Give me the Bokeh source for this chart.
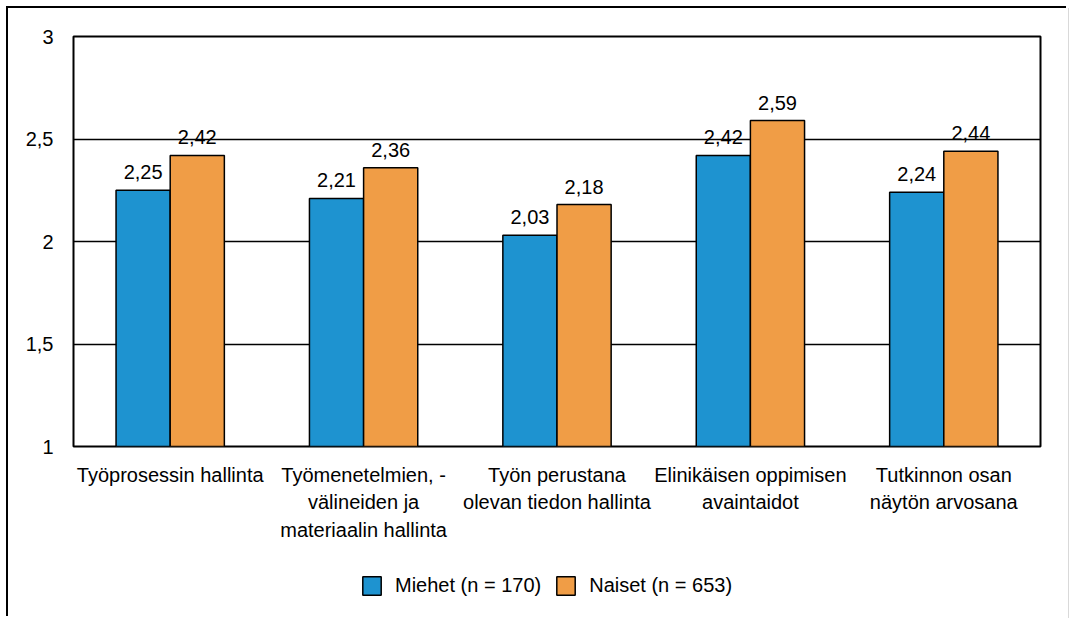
from bokeh.plotting import figure
from bokeh.layouts import column
from bokeh.models import (ColumnDataSource, FactorRange, Range1d, FixedTicker,
                          CustomJSTickFormatter, Legend, LegendItem)
from bokeh.transform import dodge
from bokeh.core.properties import value
from bokeh.embed import file_html
from bokeh.resources import INLINE

categories = [
    "Työprosessin hallinta",
    "Työmenetelmien, -\nvälineiden ja\nmateriaalin hallinta",
    "Työn perustana\nolevan tiedon hallinta",
    "Elinikäisen oppimisen\navaintaidot",
    "Tutkinnon osan\nnäytön arvosana",
]
miehet = [2.25, 2.21, 2.03, 2.42, 2.24]
naiset = [2.42, 2.36, 2.18, 2.59, 2.44]
series_names = ["Miehet (n = 170)", "Naiset (n = 653)"]
y_ticks = [1, 1.5, 2, 2.5, 3]

FONT = "Liberation Sans"
FS = "20px"
BLUE = "#1E93D0"
ORANGE = "#F09D46"

def fmt(v):
    return f"{v:.2f}".replace(".", ",")

src = ColumnDataSource(dict(
    cat=categories,
    m=miehet, n=naiset,
    m_lbl=[fmt(v) for v in miehet],
    n_lbl=[fmt(v) for v in naiset],
))

p = figure(
    width=1060, height=560,
    x_range=FactorRange(*categories, range_padding=0),
    y_range=Range1d(1, 3),
    output_backend="svg", toolbar_location=None,
    min_border_left=65, min_border_right=28,
    min_border_top=28, min_border_bottom=122,
)
p.outline_line_color = "black"
p.outline_line_width = 2
p.background_fill_color = "white"
p.border_fill_color = "white"

bw = 0.28
bar_style = dict(line_color="black", line_width=1.5)
r1 = p.vbar(x=dodge("cat", -bw / 2, range=p.x_range), top="m", bottom=1, width=bw,
            source=src, fill_color=BLUE, **bar_style)
r2 = p.vbar(x=dodge("cat", bw / 2, range=p.x_range), top="n", bottom=1, width=bw,
            source=src, fill_color=ORANGE, **bar_style)

for col, lbl, off in (("m", "m_lbl", -bw / 2), ("n", "n_lbl", bw / 2)):
    p.text(x=dodge("cat", off, range=p.x_range), y=col, text=lbl, source=src,
           text_align="center", text_baseline="alphabetic", y_offset=-18,
           text_font=value(FONT), text_font_size=FS, text_color="black")

# grid
p.xgrid.grid_line_color = None
p.ygrid.ticker = FixedTicker(ticks=y_ticks)
p.ygrid.grid_line_color = "black"
p.ygrid.grid_line_width = 1.5

# y axis
p.yaxis.ticker = FixedTicker(ticks=y_ticks)
p.yaxis.formatter = CustomJSTickFormatter(code="return String(tick).replace('.', ',');")
p.yaxis.axis_line_color = None
p.yaxis.major_tick_line_color = None
p.yaxis.minor_tick_line_color = None
p.yaxis.major_tick_out = 0
p.yaxis.major_label_standoff = 20
p.yaxis.major_label_text_font = FONT
p.yaxis.major_label_text_font_size = FS
p.yaxis.major_label_text_color = "black"

# x axis
p.xaxis.axis_line_color = None
p.xaxis.major_tick_line_color = None
p.xaxis.major_tick_out = 0
p.xaxis.major_label_standoff = 17
p.xaxis.major_label_text_font = FONT
p.xaxis.major_label_text_font_size = FS
p.xaxis.major_label_text_color = "black"
p.xaxis.major_label_text_line_height = 1.25

# legend strip below the chart (its own small figure; proxy bars hidden)
lg = figure(width=1060, height=50,
            x_range=FactorRange(*categories, range_padding=0), y_range=Range1d(10, 11),
            x_axis_type=None, y_axis_type=None,
            output_backend="svg", toolbar_location=None,
            min_border_left=65, min_border_right=28, min_border_top=0, min_border_bottom=0)
lg.outline_line_color = None
lg.grid.grid_line_color = None
lg.background_fill_color = "white"
lg.border_fill_color = "white"
d1 = lg.vbar(x="cat", top="m", bottom=1, width=bw, source=src,
             fill_color=BLUE, **bar_style)
d2 = lg.vbar(x="cat", top="n", bottom=1, width=bw, source=src,
             fill_color=ORANGE, **bar_style)
d1.visible = False
d2.visible = False

legend = Legend(
    items=[LegendItem(label=series_names[0], renderers=[d1]),
           LegendItem(label=series_names[1], renderers=[d2])],
    orientation="horizontal", location=(287, 21),
    padding=0, margin=0, spacing=13, label_standoff=12,
    glyph_width=23, glyph_height=23,
    label_text_font=FONT, label_text_font_size=FS, label_text_color="black",
    border_line_color=None, background_fill_alpha=0,
)
lg.add_layout(legend, "center")

layout = column(p, lg, spacing=0)
layout.styles = {"margin-left": "8px", "margin-top": "8px",
                 "box-shadow": "-2px -2px 0 0 #000000, 1px 0 0 0 #d9d9d9"}

open("out.html", "w").write(file_html(layout, INLINE))
